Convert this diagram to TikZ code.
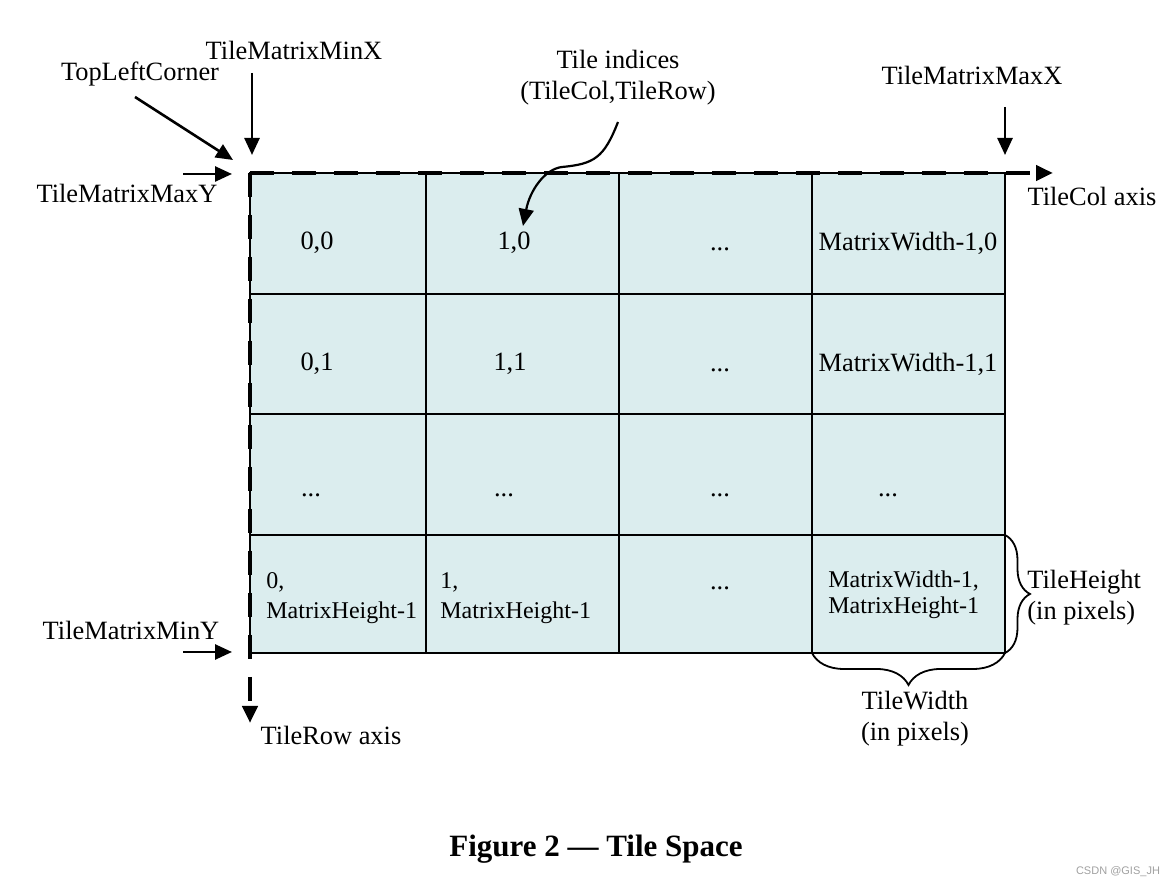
\documentclass[tikz,border=0pt]{standalone}
\usepackage{fontspec}
\setmainfont{Liberation Serif}
\newfontfamily\marksans{Liberation Sans}
\usepackage{xcolor}
\usetikzlibrary{arrows.meta, decorations.pathreplacing}
\definecolor{tilecyan}{RGB}{219,237,238}
\definecolor{markgray}{RGB}{160,160,160}

\begin{document}
\begin{tikzpicture}[
    x=0.5pt, y=-0.5pt,
    >={Triangle[length=8.5pt, width=7.5pt]},
    lbl/.style={font=\fontsize{13.2}{15.5}\selectfont, inner sep=0pt, align=center},
    dots/.style={lbl, text height=9pt, text depth=2.3pt},
    cornertext/.style={font=\fontsize{12}{15}\selectfont, inner sep=0pt, align=left},
    pointer/.style={->, line width=1.3pt},
    axisline/.style={->, line width=2.4pt, dash pattern=on 12pt off 9pt},
    gridline/.style={line width=0.8pt},
    bracemark/.style={decorate, decoration={brace, amplitude=#1}, line width=0.9pt},
]
    \useasboundingbox (0,0) rectangle (1174,886);

    \fill[tilecyan] (250,173) rectangle (1005,653);
    \foreach \gx in {426,619,812} \draw[gridline] (\gx,173) -- (\gx,653);
    \foreach \gy in {294,414,535} \draw[gridline] (250,\gy) -- (1005,\gy);
    \draw[gridline] (250,173) rectangle (1005,653);

    \coordinate (origin) at (250,173);
    \coordinate (colend) at (1053,173);
    \coordinate (rowend) at (250,723);
    \draw[axisline] (origin) -- (colend);
    \draw[axisline] (origin) -- (rowend);

    \node[lbl] (c00) at (317,243) {0,0};
    \node[lbl] (c10) at (514,243) {1,0};
    \node[dots] (c20) at (720,244) {...};
    \node[lbl] (c30) at (908,243) {MatrixWidth-1,0};
    \node[lbl] (c01) at (317,364) {0,1};
    \node[lbl] (c11) at (510,364) {1,1};
    \node[dots] (c21) at (720,365) {...};
    \node[lbl] (c31) at (908,364) {MatrixWidth-1,1};
    \node[dots] (c02) at (311,490) {...};
    \node[dots] (c12) at (504,490) {...};
    \node[dots] (c22) at (720,490) {...};
    \node[dots] (c32) at (888,490) {...};
    \node[cornertext, anchor=west] (c03) at (266,598) {0,\\MatrixHeight-1};
    \node[cornertext, anchor=west] (c13) at (440,598) {1,\\MatrixHeight-1};
    \node[dots] (c23) at (720,583) {...};
    \node[cornertext, font=\fontsize{12}{13}\selectfont, anchor=west] (c33) at (828,595) {MatrixWidth-1,\\MatrixHeight-1};

    \node[lbl] (minx) at (294,50) {TileMatrixMinX};
    \node[lbl] (corner) at (140,74) {TopLeftCorner};
    \node[lbl] (maxy) at (127,193) {TileMatrixMaxY};
    \node[lbl] (miny) at (131,630) {TileMatrixMinY};
    \node[lbl] (maxx) at (972,75) {TileMatrixMaxX};
    \node[lbl] (colaxis) at (1092,196) {TileCol axis};
    \node[lbl] (rowaxis) at (331,735) {TileRow axis};
    \node[lbl] (indices) at (618,78) {Tile indices\\(TileCol,TileRow)};

    \coordinate (minxtop) at (252,73);
    \coordinate (minxtip) at (252,155);
    \coordinate (cornertop) at (135,97);
    \coordinate (cornertip) at (233,160);
    \coordinate (maxyend) at (183,174);
    \coordinate (maxytip) at (232,174);
    \coordinate (minyend) at (183,652);
    \coordinate (minytip) at (232,652);
    \coordinate (maxxtop) at (1005,107);
    \coordinate (maxxtip) at (1005,155);
    \coordinate (idxstart) at (618,122);
    \coordinate (idxtip) at (523,226);
    \draw[pointer] (minxtop) -- (minxtip);
    \draw[pointer] (cornertop) -- (cornertip);
    \draw[pointer] (maxyend) -- (maxytip);
    \draw[pointer] (minyend) -- (minytip);
    \draw[pointer] (maxxtop) -- (maxxtip);
    \draw[->, line width=1.1pt] (idxstart) .. controls (604,158) and (594,164) .. (562,167)
        .. controls (545,169) and (530,190) .. (idxtip);

    \draw[bracemark=12.5pt] (1005,535) -- (1005,653);
    \draw[bracemark=16pt] (1005,653) -- (812,653);
    \node[lbl, anchor=west, align=left] (tileh) at (1027,598) {TileHeight\\(in pixels)};
    \node[lbl] (tilew) at (915,719) {TileWidth\\(in pixels)};

    \node[font=\fontsize{15.5}{18}\selectfont\bfseries, inner sep=0pt] (title) at (596,849) {Figure 2 --- Tile Space};
    \node[font=\marksans\fontsize{5.5}{6}\selectfont, text=markgray, inner sep=0pt] (watermark) at (1118,872) {CSDN @GIS\_JH};
\end{tikzpicture}
\end{document}
